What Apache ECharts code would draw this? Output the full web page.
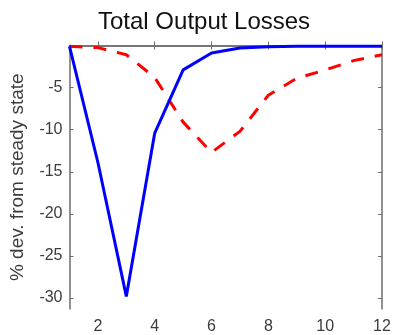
<!DOCTYPE html>
<html>
<head>
<meta charset="utf-8">
<script src="https://cdn.jsdelivr.net/npm/echarts@6/dist/echarts.min.js"></script>
<style>
  html, body { margin: 0; padding: 0; background: #ffffff; }
  #chart { width: 394px; height: 335px; }
</style>
</head>
<body>
<div id="chart"></div>
<script>
// Periods after the shock
const periods = [1, 2, 3, 4, 5, 6, 7, 8, 9, 10, 11, 12];
// Output response, % deviation from steady state
const blueSolid = [-0.1, -13.9, -29.8, -10.4, -2.9, -0.9, -0.3, -0.15, -0.1, -0.1, -0.1, -0.1];
const redDashed = [-0.1, -0.25, -1.1, -3.8, -9.1, -12.7, -10.2, -5.9, -3.9, -2.9, -1.8, -1.1];
// Tick positions
const xTicks = [2, 4, 6, 8, 10, 12];
const yTicks = [-30, -25, -20, -15, -10, -5];

const pairs = (ys) => periods.map((x, i) => [x, ys[i]]);

const axisColor = '#6e6e6e';
const textColor = '#3c3c3c';
const font = 'Liberation Sans, Arial, sans-serif';

const chart = echarts.init(document.getElementById('chart'));
chart.setOption({
  animation: false,
  backgroundColor: '#ffffff',
  title: {
    text: 'Total Output Losses',
    left: 93,
    top: 5,
    textStyle: { fontFamily: font, fontSize: 24, fontWeight: 'normal', color: '#111111' }
  },
  grid: { left: 69.5, right: 12, top: 45.5, bottom: 26 },
  xAxis: [
    {
      type: 'value', min: 1, max: 12, position: 'bottom',
      axisLine: { lineStyle: { color: axisColor, width: 1.5 } },
      axisTick: { inside: true, length: 4, customValues: xTicks, lineStyle: { color: axisColor } },
      axisLabel: { customValues: xTicks, color: textColor, fontFamily: font, fontSize: 16, margin: 10 },
      splitLine: { show: false }
    },
    {
      type: 'value', min: 1, max: 12, position: 'top',
      axisLine: { lineStyle: { color: axisColor, width: 1.5 } },
      axisTick: { inside: true, length: 4, customValues: xTicks, lineStyle: { color: axisColor } },
      axisLabel: { show: false },
      splitLine: { show: false }
    }
  ],
  yAxis: [
    {
      type: 'value', min: -31.3, max: 0, position: 'left',
      name: '% dev. from steady state',
      nameLocation: 'middle',
      nameGap: 42,
      nameTextStyle: { color: textColor, fontFamily: font, fontSize: 19 },
      axisLine: { show: true, lineStyle: { color: axisColor, width: 1.5 } },
      axisTick: { show: true, inside: true, length: 4, customValues: yTicks, lineStyle: { color: axisColor } },
      axisLabel: { customValues: yTicks, color: textColor, fontFamily: font, fontSize: 16, margin: 7 },
      splitLine: { show: false }
    },
    {
      type: 'value', min: -31.3, max: 0, position: 'right',
      axisLine: { show: true, lineStyle: { color: axisColor, width: 1.5 } },
      axisTick: { show: true, inside: true, length: 4, customValues: yTicks, lineStyle: { color: axisColor } },
      axisLabel: { show: false },
      splitLine: { show: false }
    }
  ],
  series: [
    {
      type: 'line', data: pairs(redDashed), symbol: 'none', clip: false,
      lineStyle: { color: '#ff0000', width: 3, type: [13, 11] }
    },
    {
      type: 'line', data: pairs(blueSolid), symbol: 'none', clip: false,
      lineStyle: { color: '#0000ff', width: 3 }
    }
  ]
});
</script>
</body>
</html>
